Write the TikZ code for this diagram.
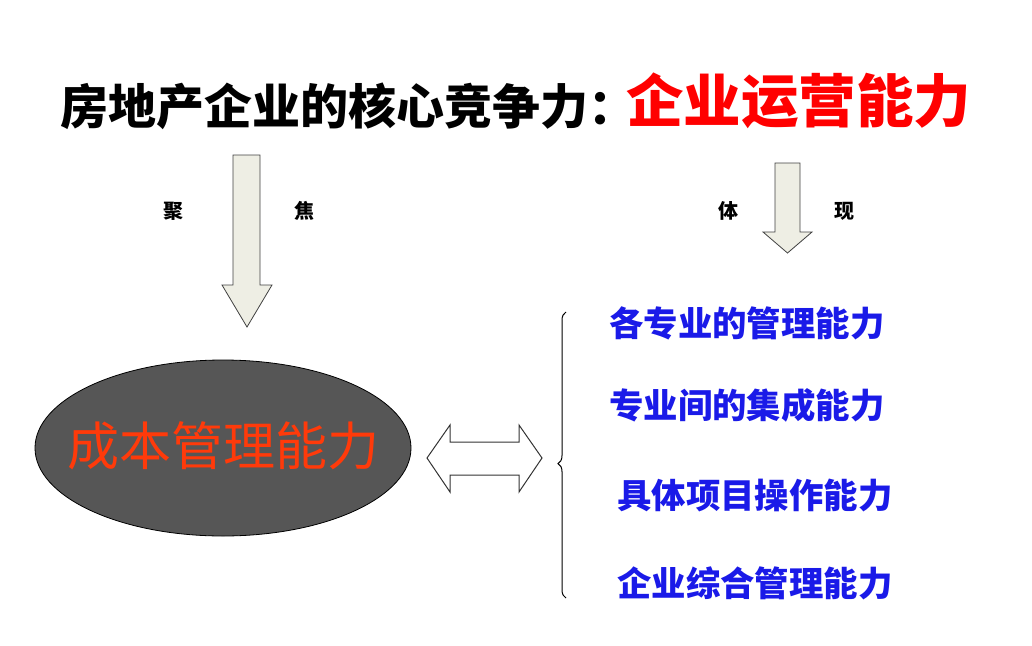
\documentclass[tikz,border=0pt]{standalone}
\usepackage{fontspec}
\newfontfamily\cjk{Noto Sans CJK SC}
\usetikzlibrary{shapes.geometric,decorations.pathreplacing}
\definecolor{arrowfill}{HTML}{EEEEE4}
\definecolor{ellfill}{HTML}{565656}
\definecolor{costred}{HTML}{FF3A0A}
\definecolor{itemblue}{HTML}{1A1AE8}
\tikzset{
  bigarrow/.style={draw=black!75, fill=arrowfill, line width=0.8pt, line join=miter},
  sidechar/.style={font=\cjk\bfseries\fontsize{20}{22}\selectfont, text=black},
  item/.style={font=\cjk\bfseries\fontsize{34.4}{38}\selectfont, text=itemblue, anchor=west, inner sep=0pt},
}
\begin{document}
\begin{tikzpicture}[x=1pt,y=-1pt]
\useasboundingbox (0,0) rectangle (1032,645);
% title
\node[anchor=west, inner sep=0pt, font=\cjk\bfseries\fontsize{48}{52}\selectfont] (title) at (60,106) {房地产企业的核心竞争力：};
\node[anchor=west, inner sep=0pt, font=\cjk\bfseries\fontsize{57.5}{62}\selectfont, text=red] (core) at (626,101) {企业运营能力};
% left down arrow
\draw[bigarrow] (233,155) -- (260,155) -- (260,285) -- (272,285) -- (247,327) -- (222,285) -- (233,285) -- cycle;
\node[sidechar] (ju) at (173,211) {聚};
\node[sidechar] (jiao) at (304,211) {焦};
% right down arrow
\draw[bigarrow] (775,163) -- (800,163) -- (800,232) -- (812,232) -- (787.5,253) -- (763,232) -- (775,232) -- cycle;
\node[sidechar] (ti) at (728,211) {体};
\node[sidechar] (xian) at (844,211) {现};
% ellipse
\node[ellipse, draw=black, line width=0.8pt, fill=ellfill, minimum width=376pt, minimum height=176pt, inner sep=0pt] (cost) at (223,448) {};
\node[font=\cjk\fontsize{52}{56}\selectfont, text=costred, inner sep=0pt] (costtext) at (223,446) {成本管理能力};
% double arrow
\draw[draw=black!80, fill=white, line width=1pt, line join=miter]
  (427,458) -- (450,425) -- (450,442) -- (519,442) -- (519,425) -- (542,458)
  -- (519,492) -- (519,475) -- (450,475) -- (450,492) -- cycle;
% brace
\coordinate (btop) at (566,312);
\coordinate (bbot) at (566,598);
\draw[line width=1pt, decorate, decoration={brace, amplitude=8pt, mirror, aspect=0.53}] (btop) -- (bbot);
% items
\node[item] (i1) at (609,323) {各专业的管理能力};
\node[item] (i2) at (609,405) {专业间的集成能力};
\node[item] (i3) at (617,495) {具体项目操作能力};
\node[item] (i4) at (617,583) {企业综合管理能力};
\end{tikzpicture}
\end{document}
